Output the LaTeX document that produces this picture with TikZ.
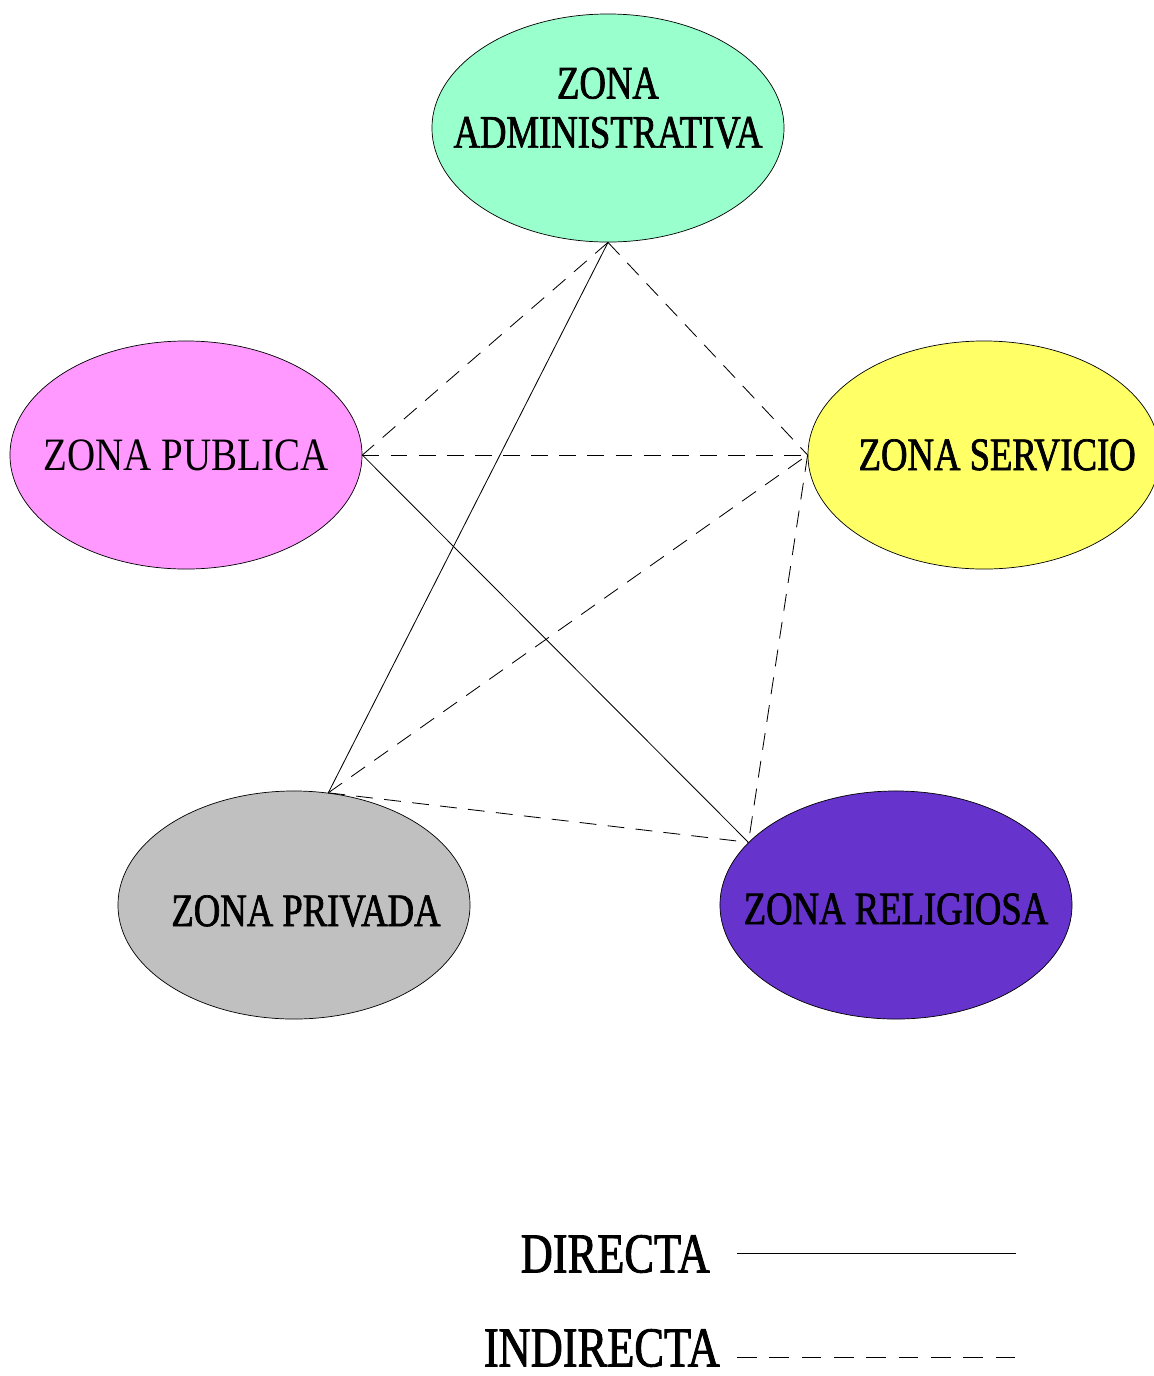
\documentclass[tikz,border=0pt]{standalone}
\usepackage{fontspec}
\setmainfont{Liberation Serif}
\newfontfamily\zonefont[FakeStretch=0.79,FakeBold=1.5]{Liberation Serif}
\newfontfamily\pubfont[FakeStretch=0.84]{Liberation Serif}
\usepackage{tikz}
\usetikzlibrary{shapes.geometric}

\definecolor{admcolor}{RGB}{153,255,204}
\definecolor{pubcolor}{RGB}{255,153,255}
\definecolor{sercolor}{RGB}{255,255,102}
\definecolor{pricolor}{RGB}{192,192,192}
\definecolor{relcolor}{RGB}{102,51,204}

\begin{document}
\begin{tikzpicture}[x=0.025cm,y=-0.025cm,
  zone/.style={ellipse,draw=black,line width=0.5pt,inner sep=0pt,
    minimum width=8.8cm,minimum height=5.7cm},
  zonetext/.style={inner sep=0pt,align=center,
    font=\zonefont\fontsize{33}{35}\selectfont},
  direct/.style={line width=0.6pt},
  indirect/.style={line width=0.6pt,dash pattern=on 12pt off 8pt},
  legend/.style={inner sep=0pt,font=\zonefont\fontsize{40}{48}\selectfont,anchor=east}]
\useasboundingbox (0,0) rectangle (1154,1376);
\node[zone,fill=admcolor,label={[zonetext,yshift=0.5cm]center:ZONA\\ADMINISTRATIVA}] (adm) at (608,128) {};
\node[zone,fill=pubcolor,label={[zonetext,font=\pubfont\fontsize{33}{35}\selectfont]center:ZONA PUBLICA}] (pub) at (186,455) {};
\node[zone,fill=sercolor,label={[zonetext,xshift=0.33cm]center:ZONA SERVICIO}] (ser) at (984,455) {};
\node[zone,fill=pricolor,label={[zonetext,xshift=0.3cm,yshift=-0.15cm]center:ZONA PRIVADA}] (pri) at (294,905) {};
\node[zone,fill=relcolor,label={[zonetext,yshift=-0.1cm]center:ZONA RELIGIOSA}] (rel) at (896,905) {};
\draw[indirect] (adm.south) -- (pub.east);
\draw[direct] (adm.south) -- (pri.73);
\draw[indirect] (adm.south) -- (ser.west);
\draw[indirect] (pub.east) -- (ser.west);
\draw[direct] (pub.east) -- (rel.157);
\draw[indirect] (pri.73) -- (ser.west);
\draw[indirect] (pri.73) -- (rel.157);
\draw[indirect] (ser.west) -- (rel.157);
\node[legend] (dir) at (710,1254) {DIRECTA};
\node[legend] (ind) at (720,1348) {INDIRECTA};
\coordinate (dirend) at (1016,1253);
\coordinate (indend) at (1016,1357);
\draw[direct] (dir.east) ++(27,-1) coordinate (dirstart) -- (dirend);
\draw[indirect,dash pattern=on 14pt off 9pt] (ind.east) ++(17,9) coordinate (indstart) -- (indend);
\end{tikzpicture}
\end{document}
